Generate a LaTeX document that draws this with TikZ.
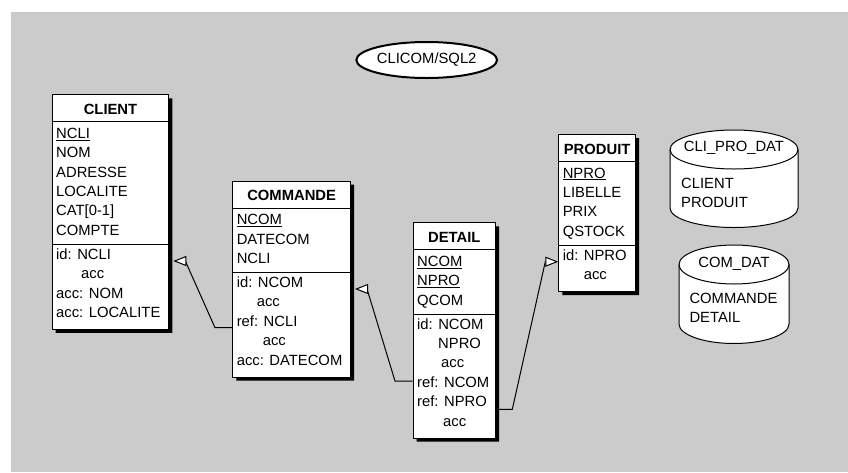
\documentclass[tikz,border=0pt]{standalone}
\usepackage{fontspec}
\setmainfont{Liberation Sans}
\usetikzlibrary{shapes.multipart, shapes.geometric, shadows, arrows.meta}

\definecolor{backdrop}{RGB}{203,203,203}
\newcommand{\headstrut}{\rule[-4.5pt]{0pt}{21pt}}
\newcommand{\constop}{\rule{0pt}{12pt}}
\newcommand{\consbot}{\rule[-9pt]{0pt}{0pt}}

\tikzset{
	entity/.style={rectangle split, rectangle split parts=3, rectangle split part align={center,left,left}, draw, fill=white, line width=1pt, align=left, inner xsep=4pt, inner ysep=2.5pt, anchor=north west, drop shadow={shadow xshift=3.5pt, shadow yshift=-3.5pt, fill=black, opacity=1}},
	fk/.style={line width=1pt, -{Triangle[length=13pt, width=10pt, fill=white]}},
	schema/.style={ellipse, draw, line width=2pt, fill=white, minimum width=126pt, minimum height=36pt, inner sep=0pt},
	area/.style={draw, line width=1pt, fill=white},
	arealist/.style={anchor=north west, inner sep=0pt, align=left}
}

\begin{document}
\begin{tikzpicture}[x=1pt, y=-1pt, font=\fontsize{14.8}{19.4}\selectfont]
	\useasboundingbox (0,0) rectangle (848,472);
	\fill[backdrop] (11,12) rectangle (848,472);

	\node[schema] (clicom) at (426.7,60) {CLICOM/SQL2};

	% tables
	\node[entity, minimum width=116.6pt] (client) at (51.7,94.3) {\headstrut\textbf{CLIENT}
		\nodepart{two}\strut\underline{NCLI}\\NOM\\ADRESSE\\LOCALITE\\CAT[0-1]\\COMPTE\strut
		\nodepart{three}\constop id: NCLI\\\hspace*{25pt}acc\\acc: NOM\\acc: LOCALITE\consbot};
	\node[entity, minimum width=117.7pt] (commande) at (232.3,180.7) {\headstrut\textbf{COMMANDE}
		\nodepart{two}\strut\underline{NCOM}\\DATECOM\\NCLI\strut
		\nodepart{three}\constop id: NCOM\\\hspace*{20pt}acc\\ref: NCLI\\\hspace*{26pt}acc\\acc: DATECOM\consbot};
	\node[entity, minimum width=82.3pt] (detail) at (412.7,222.3) {\headstrut\textbf{DETAIL}
		\nodepart{two}\strut\underline{NCOM}\\\underline{NPRO}\\QCOM\strut
		\nodepart{three}\constop id: NCOM\\\hspace*{21pt}NPRO\\\hspace*{24pt}acc\\ref: NCOM\\ref: NPRO\\\hspace*{26pt}acc\consbot};
	\node[entity, minimum width=76.7pt] (produit) at (558.3,134) {\headstrut\textbf{PRODUIT}
		\nodepart{two}\strut\underline{NPRO}\\LIBELLE\\PRIX\\QSTOCK\strut
		\nodepart{three}\constop id: NPRO\\\hspace*{21pt}acc\consbot};

	% foreign keys
	\draw[fk] (commande.west |- 0,327.7) -- (215,327.7) -- (185.3,261) -- ([xshift=4pt]client.east |- 0,261);
	\draw[fk] (detail.west |- 0,381) -- (395,381) -- (367,289) -- ([xshift=4pt]commande.east |- 0,289);
	\draw[fk] (detail.east |- 0,409.3) -- (512.3,409.3) -- (545.3,261.7) -- (produit.west |- 0,261.7);

	% data areas
	\draw[area] (670,149.5) -- (670,208) arc[start angle=180, end angle=360, x radius=64pt, y radius=19.5pt] -- (798,149.5) arc[start angle=0, end angle=180, x radius=64pt, y radius=19.5pt] -- cycle;
	\draw[line width=1pt] (670,149.5) arc[start angle=180, end angle=360, x radius=64pt, y radius=19.5pt];
	\node (clipro) at (734,148) {CLI\_PRO\_DAT};
	\node[arealist] (clipro-list) at (681,174.8) {\strut CLIENT\\PRODUIT};

	\draw[area] (679,264.5) -- (679,324) arc[start angle=180, end angle=360, x radius=55pt, y radius=19.5pt] -- (789,264.5) arc[start angle=0, end angle=180, x radius=55pt, y radius=19.5pt] -- cycle;
	\draw[line width=1pt] (679,264.5) arc[start angle=180, end angle=360, x radius=55pt, y radius=19.5pt];
	\node (comdat) at (734,264) {COM\_DAT};
	\node[arealist] (comdat-list) at (689.3,289.8) {\strut COMMANDE\\DETAIL};
\end{tikzpicture}
\end{document}
